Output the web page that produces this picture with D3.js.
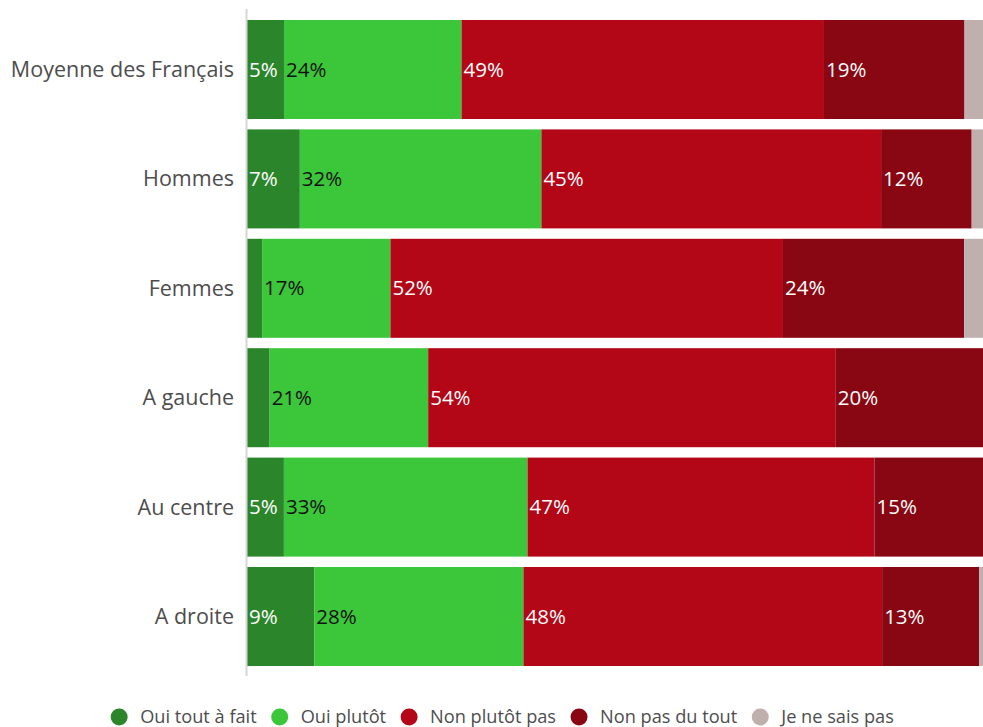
<!DOCTYPE html>
<html>
<head>
<meta charset="utf-8">
<script src="https://cdn.jsdelivr.net/npm/d3@7"></script>
<style>
  body { margin: 0; background: #fff; }
  svg { display: block; font-family: "Open Sans", sans-serif; }
</style>
</head>
<body>
<div id="chart"></div>
<script>
const categories = ["Moyenne des Français", "Hommes", "Femmes", "A gauche", "Au centre", "A droite"];
const seriesNames = ["Oui tout à fait", "Oui plutôt", "Non plutôt pas", "Non pas du tout", "Je ne sais pas"];
const ouiToutAFait = [5, 7, 2, 3, 5, 9];
const ouiPlutot = [24, 32, 17, 21, 33, 28];
const nonPlutotPas = [49, 45, 52, 54, 47, 48];
const nonPasDuTout = [19, 12, 24, 19.5, 14.7, 13];
const neSaisPas = [2.5, 1.5, 2.5, 0, 0, 0.5];
const colors = ["#2b862b", "#3cc63a", "#b30616", "#880712", "#bfb0ae"];
const labelColors = ["#fff", "#111", "#fff", "#fff", "#fff"];

const width = 983, height = 727;
const left = 247, right = 983;

// table for d3.stack
const series = [ouiToutAFait, ouiPlutot, nonPlutotPas, nonPasDuTout, neSaisPas];
const rows = categories.map((c, i) => {
    const r = { cat: c };
    seriesNames.forEach((s, j) => r[s] = series[j][i]);
    return r;
});

const stacked = d3.stack()
    .keys(seriesNames)
    .offset(d3.stackOffsetExpand)(rows);

const svg = d3.select("#chart")
    .append("svg")
    .attr("width", width)
    .attr("height", height);

const x = d3.scaleLinear().domain([0, 1]).range([left, right]);
const y = d3.scaleBand()
    .domain(categories)
    .range([14.8, 671.2])
    .paddingInner(0.095)
    .paddingOuter(0.0475);

// bars
const groups = svg.append("g")
    .selectAll("g")
    .data(stacked)
    .join("g")
    .attr("fill", (d, i) => colors[i]);

groups.selectAll("rect")
    .data(d => d)
    .join("rect")
    .attr("x", d => x(d[0]))
    .attr("y", d => y(d.data.cat))
    .attr("width", d => x(d[1]) - x(d[0]))
    .attr("height", y.bandwidth());

// labels
groups.each(function(s, i) {
    d3.select(this).selectAll("text")
        .data(s.filter(d => d.data[s.key] >= 4))
        .join("text")
        .attr("x", d => x(d[0]) + 2)
        .attr("y", d => y(d.data.cat) + y.bandwidth() / 2)
        .attr("dy", "0.35em")
        .attr("fill", labelColors[i])
        .attr("font-size", 20.5)
        .text(d => Math.round(d.data[s.key]) + "%");
});

// axis line
svg.append("line")
    .attr("x1", left - 0.5).attr("x2", left - 0.5)
    .attr("y1", 9).attr("y2", 676)
    .attr("stroke", "#d6d6d6")
    .attr("stroke-width", 2);

// category labels
svg.append("g")
    .selectAll("text")
    .data(categories)
    .join("text")
    .attr("x", 234)
    .attr("y", d => y(d) + y.bandwidth() / 2)
    .attr("dy", "0.35em")
    .attr("text-anchor", "end")
    .attr("fill", "#4d4d4d")
    .attr("font-size", 21.5)
    .text(d => d);

// legend
const legend = svg.append("g");
const items = legend.selectAll("g")
    .data(seriesNames)
    .join("g");
items.append("circle")
    .attr("r", 8.5)
    .attr("cy", 717)
    .attr("fill", (d, i) => colors[i]);
items.append("text")
    .attr("y", 717)
    .attr("dy", "0.35em")
    .attr("fill", "#4d4d4d")
    .attr("font-size", 18.2)
    .text(d => d);

let pos = 0;
const offs = [];
items.each(function() {
    const w = d3.select(this).select("text").node().getComputedTextLength();
    offs.push(pos);
    pos += 21 + w + 23;
});
const total = pos - 23;
const start = (width - total) / 2 + 15;
items.each(function(d, i) {
    const g = d3.select(this);
    g.select("circle").attr("cx", start + offs[i]);
    g.select("text").attr("x", start + offs[i] + 21);
});
</script>
</body>
</html>
